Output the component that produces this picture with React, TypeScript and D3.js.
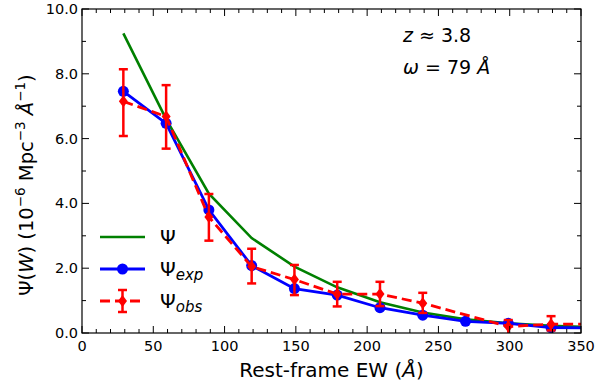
import React from "react";
import * as d3 from "d3";

const ewBins = [29, 59, 89, 119, 149, 179, 209, 239, 269, 299, 329, 359];
const psiModel = [9.25, 6.6, 4.3, 2.93, 2.05, 1.41, 0.95, 0.63, 0.42, 0.3, 0.22, 0.18];
const psiExp = [7.46, 6.47, 3.8, 2.08, 1.37, 1.17, 0.78, 0.55, 0.36, 0.3, 0.17, 0.15];
const obsBins = [29, 59, 89, 119, 149, 179, 209, 239, 299, 329, 359];
const psiObs = [7.15, 6.68, 3.58, 2.05, 1.65, 1.2, 1.2, 0.92, 0.2, 0.27, 0.28];
const obsLow = [6.08, 5.69, 2.85, 1.53, 1.17, 0.82, 0.83, 0.62, -0.05, 0.08, 0.1];
const obsHigh = [8.14, 7.65, 4.29, 2.6, 2.1, 1.58, 1.58, 1.24, 0.4, 0.52, 0.5];
const xTicks = [0, 50, 100, 150, 200, 250, 300, 350];
const yTicks = [0, 2, 4, 6, 8, 10];

const W = 613, H = 383;
const L = 82, R = 581, T = 9, B = 333;
const FONT = "DejaVu Sans";

export default function App() {
  const x = d3.scaleLinear().domain([0, 350]).range([L, R]);
  const y = d3.scaleLinear().domain([0, 10]).range([B, T]);
  const line = d3.line<[number, number]>().x(d => x(d[0])).y(d => y(d[1]));
  const xMinor = d3.range(0, 351, 10);
  const yMinor = d3.range(0, 10.01, 1);
  const diamond = (cx: number, cy: number, r: number) =>
    `M${cx},${cy - r}L${cx + r * 0.75},${cy}L${cx},${cy + r}L${cx - r * 0.75},${cy}Z`;

  return (
    <svg width={W} height={H} style={{ position: "absolute", left: 0, top: 0, background: "#fff" }} fontFamily={FONT}>
      <defs>
        <clipPath id="plot"><rect x={L} y={T} width={R - L} height={B - T} /></clipPath>
      </defs>
      <rect x={0} y={0} width={W} height={H} fill="#fff" />
      <g clipPath="url(#plot)">
        <path d={line(ewBins.map((e, i) => [e, psiModel[i]]) as any) || ""} fill="none" stroke="#008000" strokeWidth={2.6} />
        <path d={line(ewBins.map((e, i) => [e, psiExp[i]]) as any) || ""} fill="none" stroke="#0000ff" strokeWidth={2.8} />
        {ewBins.map((e, i) => (
          <circle key={"b" + i} cx={x(e)} cy={y(psiExp[i])} r={5.5} fill="#0000ff" />
        ))}
        <path d={line(obsBins.map((e, i) => [e, psiObs[i]]) as any) || ""} fill="none" stroke="#ff0000" strokeWidth={2.8} strokeDasharray="10,5" />
        {obsBins.map((e, i) => (
          <g key={"r" + i} stroke="#ff0000" strokeWidth={2.5}>
            <line x1={x(e)} x2={x(e)} y1={y(obsLow[i])} y2={y(obsHigh[i])} />
            <line x1={x(e) - 4.5} x2={x(e) + 4.5} y1={y(obsLow[i])} y2={y(obsLow[i])} />
            <line x1={x(e) - 4.5} x2={x(e) + 4.5} y1={y(obsHigh[i])} y2={y(obsHigh[i])} />
            <path d={diamond(x(e), y(psiObs[i]), 6)} fill="#ff0000" stroke="none" />
          </g>
        ))}
      </g>
      {/* frame */}
      <rect x={L} y={T} width={R - L} height={B - T} fill="none" stroke="#000" strokeWidth={1.2} />
      {/* ticks */}
      <g stroke="#000" strokeWidth={1}>
        {xMinor.map(v => (
          <g key={"xm" + v}>
            <line x1={x(v)} x2={x(v)} y1={B} y2={B - (v % 50 === 0 ? 7 : 4)} />
            <line x1={x(v)} x2={x(v)} y1={T} y2={T + (v % 50 === 0 ? 7 : 4)} />
          </g>
        ))}
        {yMinor.map(v => (
          <g key={"ym" + v}>
            <line x1={L} x2={L + (v % 2 === 0 ? 7 : 4)} y1={y(v)} y2={y(v)} />
            <line x1={R} x2={R - (v % 2 === 0 ? 7 : 4)} y1={y(v)} y2={y(v)} />
          </g>
        ))}
      </g>
      <g fontSize={14.5} fill="#000">
        {xTicks.map(v => (
          <text key={"xt" + v} x={x(v)} y={B + 18} textAnchor="middle">{v}</text>
        ))}
        {yTicks.map(v => (
          <text key={"yt" + v} x={L - 4} y={y(v) + 5} textAnchor="end">{v.toFixed(1)}</text>
        ))}
      </g>
      {/* x label */}
      <text x={(L + R) / 2} y={377} textAnchor="middle" fontSize={20}>
        Rest-frame EW (<tspan fontStyle="italic">Å</tspan>)
      </text>
      {/* y label */}
      <text transform={`translate(33,${(T + B) / 2 + 14}) rotate(-90)`} textAnchor="middle" fontSize={19.5}>
        Ψ(<tspan fontStyle="italic">W</tspan>) (10<tspan fontSize={13.5} dy={-8}>−6</tspan>
        <tspan dy={8}> Mpc</tspan><tspan fontSize={13.5} dy={-8}>−3</tspan>
        <tspan dy={8}> </tspan><tspan fontStyle="italic">Å</tspan><tspan fontSize={13.5} dy={-8}>−1</tspan>
        <tspan dy={8}>)</tspan>
      </text>
      {/* annotations */}
      <text x={403} y={42} fontSize={19}><tspan fontStyle="italic">z</tspan> ≈ 3.8</text>
      <text x={403} y={74} fontSize={19}><tspan fontStyle="italic">ω</tspan> = 79 <tspan fontStyle="italic">Å</tspan></text>
      {/* legend */}
      <g>
        <line x1={100} x2={145} y1={237} y2={237} stroke="#008000" strokeWidth={2.6} />
        <text x={160} y={244} fontSize={20}>Ψ</text>
        <line x1={100} x2={145} y1={269} y2={269} stroke="#0000ff" strokeWidth={2.8} />
        <circle cx={122.5} cy={269} r={5.5} fill="#0000ff" />
        <text x={160} y={276} fontSize={20}>Ψ<tspan fontSize={15} fontStyle="italic" dy={4}>exp</tspan></text>
        <line x1={100} x2={145} y1={301} y2={301} stroke="#ff0000" strokeWidth={2.8} strokeDasharray="10,5" />
        <g stroke="#ff0000" strokeWidth={2.5}>
          <line x1={122.5} x2={122.5} y1={290} y2={312} />
          <line x1={118} x2={127} y1={290} y2={290} />
          <line x1={118} x2={127} y1={312} y2={312} />
        </g>
        <path d={diamond(122.5, 301, 6)} fill="#ff0000" />
        <text x={160} y={308} fontSize={20}>Ψ<tspan fontSize={15} fontStyle="italic" dy={4}>obs</tspan></text>
      </g>
    </svg>
  );
}
